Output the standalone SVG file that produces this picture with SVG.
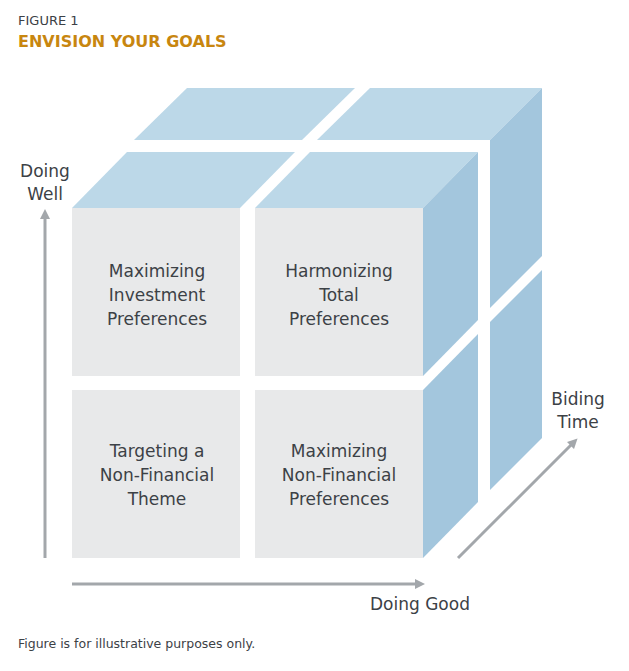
<svg xmlns="http://www.w3.org/2000/svg" width="629" height="671" viewBox="0 0 629 671">
<style>
.f{fill:#e8e9ea}.t{fill:#bcd8e8}.s{fill:#a3c6dd}
text{font-family:Verdana,"DejaVu Sans",sans-serif;fill:#3c4146}
.l{font-size:17px;text-anchor:middle}
.a{stroke:#a3a7ab;stroke-width:3;fill:none}
</style>
<defs><marker id="h" markerWidth="10" markerHeight="10" refX="5" refY="5" orient="auto" markerUnits="userSpaceOnUse"><path d="M0,0L10,5L0,10Z" fill="#a3a7ab"/></marker></defs>
<rect width="629" height="671" fill="#fff"/>
<text x="18" y="25" font-size="13">FIGURE 1</text>
<text x="18" y="47" font-size="16" font-weight="bold" style="fill:#c8860f">ENVISION YOUR GOALS</text>
<g id="tops">
<polygon class="t" points="134,140 302,140 355,88 187,88"/>
<polygon class="t" points="317,140 490,140 542,88 370,88"/>
<polygon class="t" points="72,208 240,208 295,152 127,152"/>
<polygon class="t" points="255,208 423,208 478,152 310,152"/>
</g>
<g id="sides">
<polygon class="s" points="490,140 542,88 542,256 490,308"/>
<polygon class="s" points="490,322 542,270 542,438 490,490"/>
<polygon class="s" points="423,208 478,152 478,320 423,376"/>
<polygon class="s" points="423,390 478,334 478,502 423,558"/>
</g>
<g id="n1"><rect class="f" x="72" y="208" width="168" height="168"/><text class="l" x="157" y="277">Maximizing</text><text class="l" x="157" y="301">Investment</text><text class="l" x="157" y="325">Preferences</text></g>
<g id="n2"><rect class="f" x="255" y="208" width="168" height="168"/><text class="l" x="339" y="277">Harmonizing</text><text class="l" x="339" y="301">Total</text><text class="l" x="339" y="325">Preferences</text></g>
<g id="n3"><rect class="f" x="72" y="390" width="168" height="168"/><text class="l" x="157" y="457">Targeting a</text><text class="l" x="157" y="481">Non-Financial</text><text class="l" x="157" y="505">Theme</text></g>
<g id="n4"><rect class="f" x="255" y="390" width="168" height="168"/><text class="l" x="339" y="457">Maximizing</text><text class="l" x="339" y="481">Non-Financial</text><text class="l" x="339" y="505">Preferences</text></g>
<g id="connectors">
<line class="a" x1="45" y1="558" x2="45" y2="214" marker-end="url(#h)"/>
<line class="a" x1="72" y1="584" x2="420" y2="584" marker-end="url(#h)"/>
<line class="a" x1="458" y1="558" x2="574" y2="442" marker-end="url(#h)"/>
</g>
<text class="l" x="45" y="177">Doing</text><text class="l" x="45" y="200">Well</text>
<text class="l" x="420" y="610">Doing Good</text>
<text class="l" x="578" y="405">Biding</text><text class="l" x="578" y="428">Time</text>
<text x="18" y="648" font-size="12.5">Figure is for illustrative purposes only.</text>
</svg>
